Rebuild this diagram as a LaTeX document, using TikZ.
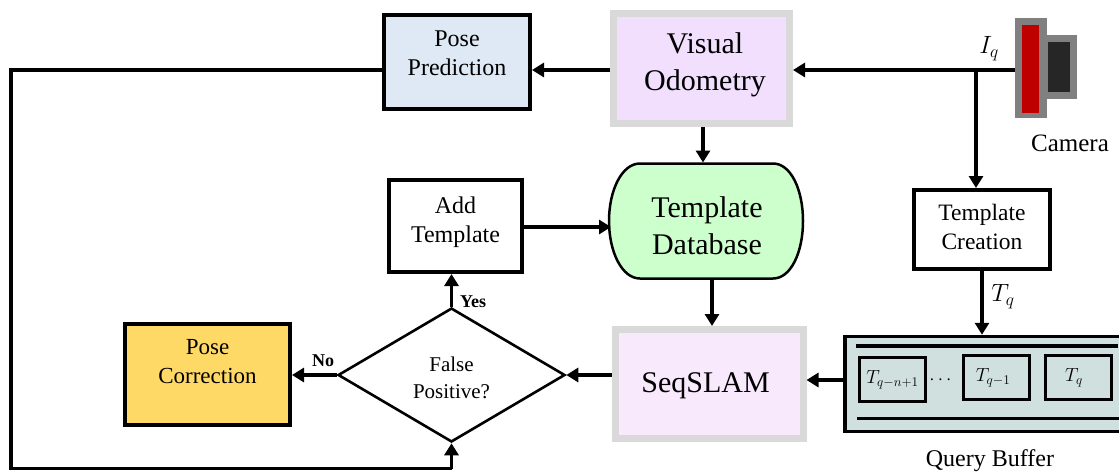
\documentclass[tikz,border=0pt]{standalone}
\usepackage{fix-cm}
\usepackage{fontspec}
\setmainfont{Liberation Serif}
\usepackage{amsmath}
\usetikzlibrary{arrows.meta,shapes.geometric}
\definecolor{posecol}{HTML}{DEE9F5}
\definecolor{viscol}{HTML}{F1DFFD}
\definecolor{slamcol}{HTML}{F9E9FC}
\definecolor{dbcol}{HTML}{CCFFCC}
\definecolor{corrcol}{HTML}{FFD966}
\definecolor{buffcol}{HTML}{CFE0DF}
\definecolor{edgecol}{HTML}{D9D9D9}
\definecolor{camcol}{HTML}{808080}
\tikzset{
	box/.style={rectangle,draw,line width=4pt,inner sep=0,align=center},
	bigbox/.style={rectangle,draw=edgecol,line width=7pt,inner sep=0,align=center,font=\fontsize{30}{37}\selectfont},
	tbox/.style={rectangle,draw,line width=3pt,inner sep=0,minimum width=66pt,minimum height=44pt,font=\fontsize{19}{22}\selectfont},
	bline/.style={line width=3.2pt},
	arr/.style={line width=3.3pt,-{Triangle[length=12pt,width=14pt]}},
	wire/.style={line width=3.3pt},
	lab/.style={inner sep=0,font=\fontsize{25}{30}\selectfont},
	small/.style={inner sep=0,font=\fontsize{18}{22}\selectfont\bfseries}
}
\begin{document}
\begin{tikzpicture}[x=1pt,y=-1pt]
\useasboundingbox (0,0) rectangle (1119,472);
% boxes
\node[box,fill=posecol,minimum width=146pt,minimum height=94pt,font=\fontsize{24}{29}\selectfont] (pose) at (457,62) {Pose\\Prediction\\[-11pt]~};
\node[bigbox,fill=viscol,minimum width=176pt,minimum height=110pt] (vis) at (701.5,68.5) {\hspace*{7pt}Visual\\\hspace*{7pt}Odometry\\[-24pt]~};
\draw[line width=2.5pt,fill=dbcol] (640,163.5) -- (773,163.5) .. controls (791,163.5) and (803,190) .. (803,221) .. controls (803,252) and (791,278.5) .. (773,278.5) -- (640,278.5) .. controls (622,278.5) and (609,252) .. (609,221) .. controls (609,190) and (622,163.5) .. (640,163.5) -- cycle;
\node[rectangle,inner sep=0,outer sep=0,minimum width=196pt,minimum height=117pt] (db) at (706,221) {};
\node[box,minimum width=133pt,minimum height=92pt,font=\fontsize{24}{29}\selectfont] (add) at (455.5,226) {Add\\Template\\[-17pt]~};
\node[box,minimum width=136pt,minimum height=79pt,font=\fontsize{23.5}{29}\selectfont] (creat) at (982,229.5) {Template\\Creation\\[-23pt]~};
\node[box,fill=corrcol,minimum width=165pt,minimum height=101pt,font=\fontsize{23}{29}\selectfont] (corr) at (207.5,374.5) {Pose\\Correction\\[-3pt]~};
\node[diamond,draw,line width=2.6pt,inner sep=0,minimum width=227pt,minimum height=134pt,aspect=1.7] (fp) at (451.5,375) {};
\node[bigbox,fill=slamcol,minimum width=188pt,minimum height=109pt] (slam) at (709,384) {};
\node[rectangle,draw,line width=3.5pt,fill=buffcol,minimum width=280pt,minimum height=95pt,inner sep=0] (buff) at (985,384) {};
% camera
\node[rectangle,fill=camcol,minimum width=32pt,minimum height=64pt,inner sep=0] (back) at (1061,67) {};
\node[rectangle,fill=camcol,minimum width=32pt,minimum height=100pt,inner sep=0] (cam) at (1031,68) {};
\node[rectangle,fill=red!75!black,minimum width=17pt,minimum height=88pt,inner sep=0] (lens) at (1030.5,69) {};
\node[rectangle,fill=black!85,minimum width=22pt,minimum height=50pt,inner sep=0] (body) at (1059,67) {};
% buffer
\coordinate (l1) at (856,346);
\coordinate (l2) at (1118,346);
\coordinate (l3) at (857,418.7);
\coordinate (l4) at (1119,418.7);
\draw[bline] (l1) -- (l2);
\draw[bline] (l3) -- (l4);
\node[tbox] (t1) at (892.5,379.5) {$T_{q-n+1}$};
\node[inner sep=0] (dots) at (942,380) {\fontsize{19}{22}\selectfont$\cdots$};
\node[tbox] (t2) at (996,377.5) {$T_{q-1}$\hspace*{6pt}};
\node[tbox] (t3) at (1078,377.5) {$T_{q}$\hspace*{8pt}};
% connectors
\coordinate (j) at (976,70);
\coordinate (c1) at (11,70);
\coordinate (c2) at (11,468.5);
\coordinate (c3) at (451.5,468.5);
\draw[arr] (cam.west |- j) -- (vis.east |- j);
\draw[arr] (j) -- (j |- creat.north);
\draw[arr] (vis.west |- j) -- (pose.east |- j);
\draw[wire] (pose.west |- j) -- (c1) -- (c2) -- (c3);
\draw[arr] (c3) -- (fp.south);
\draw[arr] ([yshift=-1pt]add.east) -- ([xshift=3pt,yshift=-6pt]db.west);
\draw[arr] ([xshift=1.5pt]vis.south) -- ([xshift=-3pt]db.north);
\draw[arr] ([xshift=6pt]db.south) -- ([xshift=3pt]slam.north);
\draw[arr] (slam.west |- fp.east) -- (fp.east);
\draw[arr] ([yshift=4pt]buff.west) -- ([yshift=4pt]slam.east);
\draw[arr] (creat.south) -- (creat.south |- buff.north);
\draw[arr] (fp.north) -- (fp.north |- add.south);
\draw[arr] (fp.west) -- (corr.east |- fp.west);
% labels
\node[inner sep=0,align=center,font=\fontsize{30}{37}\selectfont] (dblab) at (707,226) {Template\\Database};
\node[inner sep=0,font=\fontsize{30}{37}\selectfont] (slamlab) at (705.5,386) {SeqSLAM};
\node[inner sep=0,align=center,font=\fontsize{21}{27}\selectfont] (fplab) at (451.5,377.5) {False\\Positive?};
\node[lab] (iq) at (989,49) {$I_q$};
\node[lab] (tq) at (1003,297) {$T_q$};
\node[lab] (camlab) at (1070,143) {Camera};
\node[inner sep=0,font=\fontsize{24}{30}\selectfont] (qlab) at (990,461) {Query Buffer};
\node[small] (yes) at (473,302) {Yes};
\node[small] (no) at (323,361) {No};
\end{tikzpicture}
\end{document}
